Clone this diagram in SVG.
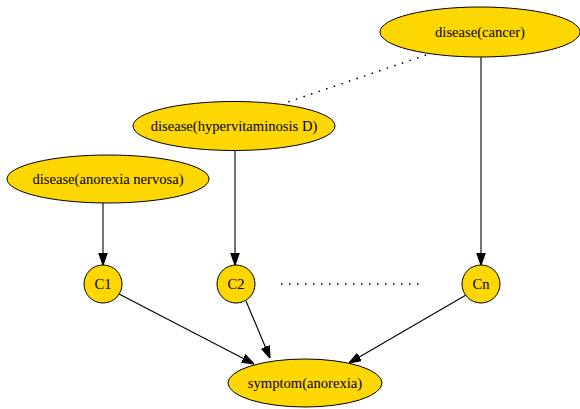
<svg xmlns="http://www.w3.org/2000/svg" width="580" height="409" viewBox="0 0 580 409">
<style>
.n{fill:#ffd700;stroke:#000;stroke-width:1}
.t{font-family:"Liberation Serif","Times New Roman",serif;font-size:14.6px;text-anchor:middle;fill:#000}
.e{stroke:#000;stroke-width:1.1;fill:none}
.d{stroke:#000;stroke-width:1.5;fill:none;stroke-dasharray:1.5,6.5}
</style>
<defs>
<marker id="a" markerUnits="userSpaceOnUse" markerWidth="12" markerHeight="10" refX="10" refY="3.5" orient="auto" viewBox="0 0 10 7">
<path d="M0,0 L10,3.5 L0,7 z" fill="#000" stroke="#000"/>
</marker>
</defs>
<g id="connectors">
<line class="d" x1="426" y1="55" x2="288" y2="102"/>
<line class="d" x1="281" y1="284" x2="423" y2="284"/>
<line class="e" x1="103" y1="203" x2="103" y2="265" marker-end="url(#a)"/>
<line class="e" x1="235" y1="151" x2="235" y2="265" marker-end="url(#a)"/>
<line class="e" x1="481" y1="57" x2="481" y2="265" marker-end="url(#a)"/>
<line class="e" x1="119" y1="294" x2="254" y2="364" marker-end="url(#a)"/>
<line class="e" x1="246" y1="301" x2="270" y2="358" marker-end="url(#a)"/>
<line class="e" x1="466" y1="295" x2="349" y2="363" marker-end="url(#a)"/>
</g>
<g id="cancer"><ellipse class="n" cx="480" cy="32" rx="100" ry="25"/><text class="t" x="480" y="37">disease(cancer)</text></g>
<g id="hyper"><ellipse class="n" cx="234" cy="126" rx="101" ry="24.5"/><text class="t" x="234" y="131">disease(hypervitaminosis D)</text></g>
<g id="anorexia_nervosa"><ellipse class="n" cx="108" cy="179" rx="101" ry="24"/><text class="t" x="108" y="184">disease(anorexia nervosa)</text></g>
<g id="C1"><circle class="n" cx="103" cy="284" r="19"/><text class="t" x="103" y="289">C1</text></g>
<g id="C2"><circle class="n" cx="236" cy="284" r="19"/><text class="t" x="236" y="289">C2</text></g>
<g id="Cn"><circle class="n" cx="481" cy="284" r="19"/><text class="t" x="481" y="289">Cn</text></g>
<g id="symptom"><ellipse class="n" cx="305" cy="383" rx="77" ry="24"/><text class="t" x="305" y="388">symptom(anorexia)</text></g>
</svg>
